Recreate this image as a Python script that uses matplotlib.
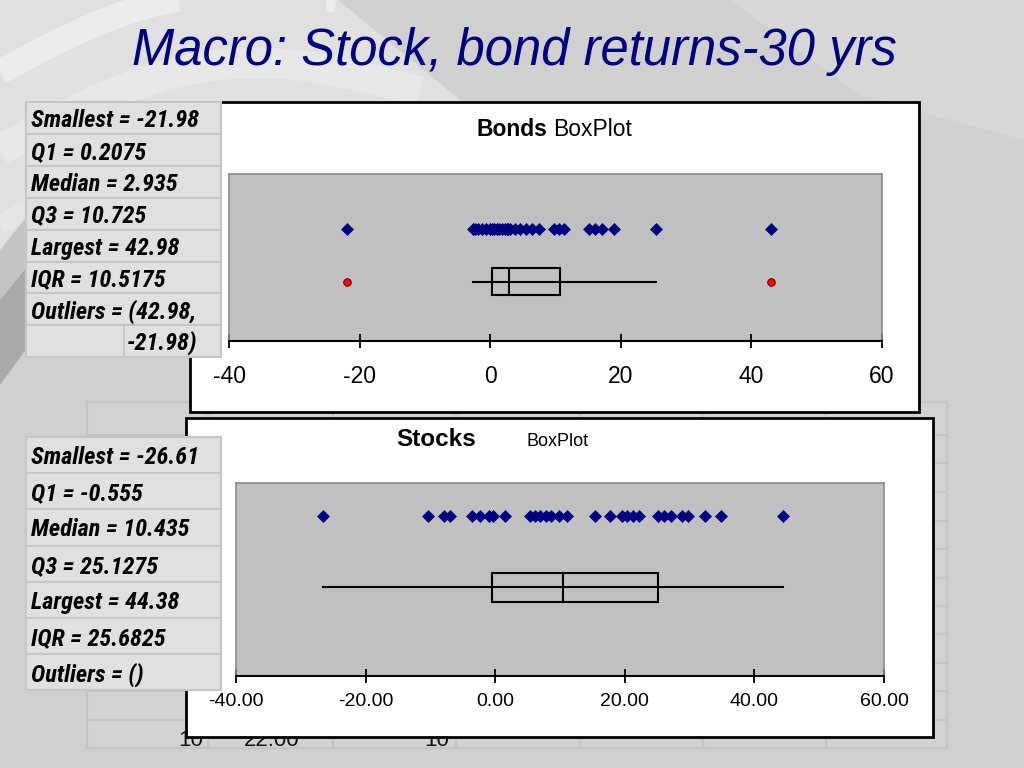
import numpy as np
import matplotlib
matplotlib.use("Agg")
import matplotlib.pyplot as plt
from matplotlib.patches import Rectangle, Polygon
from matplotlib import font_manager as fm

# ---------------- data ----------------
bond_returns = [-21.98, -2.7, -2.3, -1.9, -1.2, -0.6, -0.1, 0.2, 0.6, 1.0,
                1.4, 1.8, 2.2, 2.6, 2.8, 3.1, 3.8, 4.6, 5.5, 6.4,
                7.4, 9.7, 10.5, 11.3, 15.1, 16.1, 17.1, 18.9, 25.4, 42.98]
stock_returns = [-26.61, -10.4, -7.9, -7.0, -3.6, -2.4, -1.0, -0.4, 1.5, 5.3,
                 6.1, 6.9, 7.9, 8.6, 9.8, 11.1, 15.4, 17.7, 19.5, 20.4,
                 21.3, 22.2, 25.1, 26.0, 27.2, 28.8, 29.8, 32.4, 34.8, 44.38]

bond_q1, bond_median, bond_q3 = 0.2075, 2.935, 10.725
stock_q1, stock_median, stock_q3 = -0.555, 10.435, 25.1275

bond_ticks = [-40, -20, 0, 20, 40, 60]
stock_ticks = [-40, -20, 0, 20, 40, 60]

bond_stats_labels = ["Smallest = -21.98", "Q1 = 0.2075", "Median = 2.935",
                     "Q3 = 10.725", "Largest = 42.98", "IQR = 10.5175",
                     "Outliers = (42.98,", "-21.98)"]
stock_stats_labels = ["Smallest = -26.61", "Q1 = -0.555", "Median = 10.435",
                      "Q3 = 25.1275", "Largest = 44.38", "IQR = 25.6825",
                      "Outliers = ()"]

title = "Macro: Stock, bond returns-30 yrs"

NAVY = "#000080"
SANS = ["Liberation Sans", "DejaVu Sans"]


# ---- pick a condensed bold italic face for the stats tables ----
def pick_narrow():
    prefs = [("liberation sans narrow", 17.0), ("arial narrow", 17.0),
             ("roboto condensed", 17.5), ("open sans condensed", 16.0),
             ("noto sans condensed", 16.0), ("noto sans", 16.0), ("open sans", 16.0),
             ("dejavu sans condensed", 15.0), ("dejavu sans", 15.0)]
    best = None
    for f in fm.fontManager.ttflist:
        nm = f.name.lower()
        fname = f.fname.lower()
        st = f.stretch
        cond = ("narrow" in nm or "condensed" in nm or "narrow" in fname or
                "condensed" in fname or
                (isinstance(st, str) and "condensed" in st) or
                (isinstance(st, (int, float)) and st < 500))
        if not cond:
            continue
        rank = None
        for i, (p, size) in enumerate(prefs):
            if nm.startswith(p):
                rank = i
                break
        if rank is None:
            continue
        w = f.weight
        bold = (isinstance(w, str) and w in ("bold", "heavy", "black", "extra bold", "semibold", "demibold")) or \
               (isinstance(w, (int, float)) and w >= 600)
        ital = f.style in ("italic", "oblique")
        score = (rank, -int(bold) * 2 - int(ital))
        if best is None or score < best[0]:
            best = (score, f.fname, prefs[rank][1], bold, ital)
    return best


_narrow = pick_narrow()
if _narrow is not None:
    _, _fpath, TABLE_FS, _b, _i = _narrow
    TABLE_FONT = dict(fontproperties=fm.FontProperties(
        fname=_fpath, size=TABLE_FS,
        weight="normal" if _b else "bold", style="normal" if _i else "italic"))
else:
    TABLE_FONT = dict(family=SANS, fontweight="bold", fontstyle="italic", fontsize=15.0)

fig = plt.figure(figsize=(10.24, 7.68), dpi=100)
fig.patch.set_facecolor("#D0D0D0")

bg = fig.add_axes([0, 0, 1, 1])
bg.set_xlim(0, 1024)
bg.set_ylim(768, 0)
bg.axis("off")
bg.set_zorder(0)

# ---------- decorative slide background ----------
bg.add_patch(Polygon([(0, 0), (338, 0), (470, 108), (330, 180), (60, 250), (0, 290)],
                     closed=True, facecolor="#E0E0E0", edgecolor="none", zorder=0))
bg.add_patch(Polygon([(730, 0), (1024, 0), (1024, 140), (860, 95)],
                     closed=True, facecolor="#D7D7D7", edgecolor="none", zorder=0))
t = np.linspace(0, 1, 80)
for (x0, y0, x1, y1, bulge, lw, col) in [(0, 72, 336, 0, 35, 18, "#ECECEC"),
                                         (0, 150, 420, 92, 55, 22, "#E7E7E7"),
                                         (0, 225, 330, 175, 45, 14, "#E5E5E5")]:
    xs = x0 + (x1 - x0) * t
    ys = y0 + (y1 - y0) * t - bulge * np.sin(np.pi * t)
    bg.plot(xs, ys, color=col, lw=lw, solid_capstyle="butt", zorder=0.5)
bg.add_patch(Polygon([(0, 300), (40, 250), (40, 330), (0, 385)],
                     closed=True, facecolor="#A9A9A9", edgecolor="none", zorder=0.6))
bg.add_patch(Polygon([(0, 250), (40, 200), (40, 250), (0, 300)],
                     closed=True, facecolor="#C4C4C4", edgecolor="none", zorder=0.6))

# background table grid behind the stocks chart
col_edges = [87, 208, 333, 456, 580, 703, 826, 947]
row_edges = [402, 435, 463, 492, 521, 549, 578, 606, 634, 663, 691, 720, 748]
bg.add_patch(Rectangle((87, 402), 860, 346, facecolor="#D2D2D2",
                       edgecolor="#C4C4C4", lw=1.5, zorder=1))
for x in col_edges:
    bg.plot([x, x], [402, 748], color="#C4C4C4", lw=1.5, zorder=1.1)
for y in row_edges:
    bg.plot([87, 947], [y, y], color="#C4C4C4", lw=1.5, zorder=1.1)
for x, s in [(191, "10"), (272, "22.00"), (437, "10")]:
    bg.text(x, 746, s, fontsize=16, family=SANS, ha="center", va="baseline",
            color="#111111", zorder=1.2)

# ---------- chart frames ----------
bg.add_patch(Rectangle((190, 102), 729, 310, facecolor="white", edgecolor="black",
                       lw=2, zorder=2))
bg.add_patch(Rectangle((186, 418), 747, 319, facecolor="white", edgecolor="black",
                       lw=2, zorder=2))

# chart titles
bg.text(547, 130, "Bonds", fontsize=16.5, fontweight="bold", family=SANS,
        ha="right", va="center", zorder=3)
bg.text(553, 130, "BoxPlot", fontsize=16.5, family=SANS, ha="left", va="center", zorder=3)
bg.text(436, 440, "Stocks", fontsize=17.5, fontweight="bold", family=SANS,
        ha="center", va="center", zorder=3)
bg.text(558, 442, "BoxPlot", fontsize=13, family=SANS, ha="center", va="center", zorder=3)


# ---------- stats tables ----------
def draw_table(labels, top, row_h, nrows, split_last=False):
    left, right = 26, 221
    for i in range(nrows):
        y = top + i * row_h
        bg.add_patch(Rectangle((left, y), right - left, row_h, facecolor="#E0E0E0",
                               edgecolor="#C6C6C6", lw=1.5, zorder=4))
    if split_last:
        y = top + (nrows - 1) * row_h
        bg.plot([124, 124], [y, y + row_h], color="#C6C6C6", lw=1.5, zorder=4.1)
    for i, s in enumerate(labels):
        row = min(i, nrows - 1)
        x = 31
        if split_last and i == len(labels) - 1:
            x = 127
        bg.text(x, top + (row + 0.5) * row_h, s, ha="left", va="center_baseline",
                color="black", zorder=5, **TABLE_FONT)


draw_table(bond_stats_labels, 102, 31.9, 8, split_last=True)
draw_table(stock_stats_labels, 437, 36.2, 7)

# ---------- title ----------
bg.text(514, 52, title, fontsize=36.5, fontstyle="italic", family=SANS,
        color=NAVY, ha="center", va="center", zorder=5)


# ---------- plot areas ----------
def px_axes(x0, y0, x1, y1):
    return fig.add_axes([x0 / 1024, 1 - y1 / 768, (x1 - x0) / 1024, (y1 - y0) / 768])


def boxplot_panel(ax, data, q1, med, q3, ticks, dot_y, box_y, box_h, fmt,
                  tick_fs, pad, show_fliers):
    data = np.asarray(data)
    iqr = q3 - q1
    lo_f, hi_f = q1 - 1.5 * iqr, q3 + 1.5 * iqr
    inside = data[(data >= lo_f) & (data <= hi_f)]
    fliers = data[(data < lo_f) | (data > hi_f)]
    ax.set_facecolor("#C0C0C0")
    ax.set_xlim(ticks[0], ticks[-1])
    ax.set_ylim(0, 1)
    ax.plot(data, np.full(len(data), dot_y), linestyle="none", marker="D",
            ms=5.8, color=NAVY, mec=NAVY, mew=0.5, zorder=3)
    ax.plot([inside.min(), inside.max()], [box_y, box_y], color="black", lw=1.5, zorder=2)
    ax.add_patch(Rectangle((q1, box_y - box_h / 2), q3 - q1, box_h, facecolor="none",
                           edgecolor="black", lw=1.5, zorder=2))
    ax.plot([med, med], [box_y - box_h / 2, box_y + box_h / 2], color="black", lw=1.5, zorder=2)
    if show_fliers and len(fliers):
        ax.plot(fliers, np.full(len(fliers), box_y), linestyle="none", marker="o",
                ms=5.5, mfc="#FF0000", mec="#400000", mew=0.6, zorder=3)
    for side in ["top", "left", "right"]:
        ax.spines[side].set_color("#8A8A8A")
        ax.spines[side].set_linewidth(1.2)
    ax.spines["bottom"].set_color("black")
    ax.spines["bottom"].set_linewidth(1.5)
    ax.set_yticks([])
    ax.set_xticks(ticks)
    ax.set_xticklabels([fmt.format(v) for v in ticks], fontsize=tick_fs, family=SANS)
    ax.tick_params(axis="x", direction="inout", length=10, width=1.3, pad=pad,
                   colors="black")


ax1 = px_axes(229, 174, 882, 341)
ax1.set_zorder(3)
boxplot_panel(ax1, bond_returns, bond_q1, bond_median, bond_q3, bond_ticks,
              dot_y=0.67, box_y=0.355, box_h=0.16, fmt="{:d}", tick_fs=16.5, pad=12,
              show_fliers=True)

ax2 = px_axes(236, 483, 884, 676)
ax2.set_zorder(3)
boxplot_panel(ax2, stock_returns, stock_q1, stock_median, stock_q3, stock_ticks,
              dot_y=0.83, box_y=0.46, box_h=0.15, fmt="{:.2f}", tick_fs=14, pad=7.5,
              show_fliers=True)

fig.savefig("out.png", dpi=100, facecolor=fig.get_facecolor())
